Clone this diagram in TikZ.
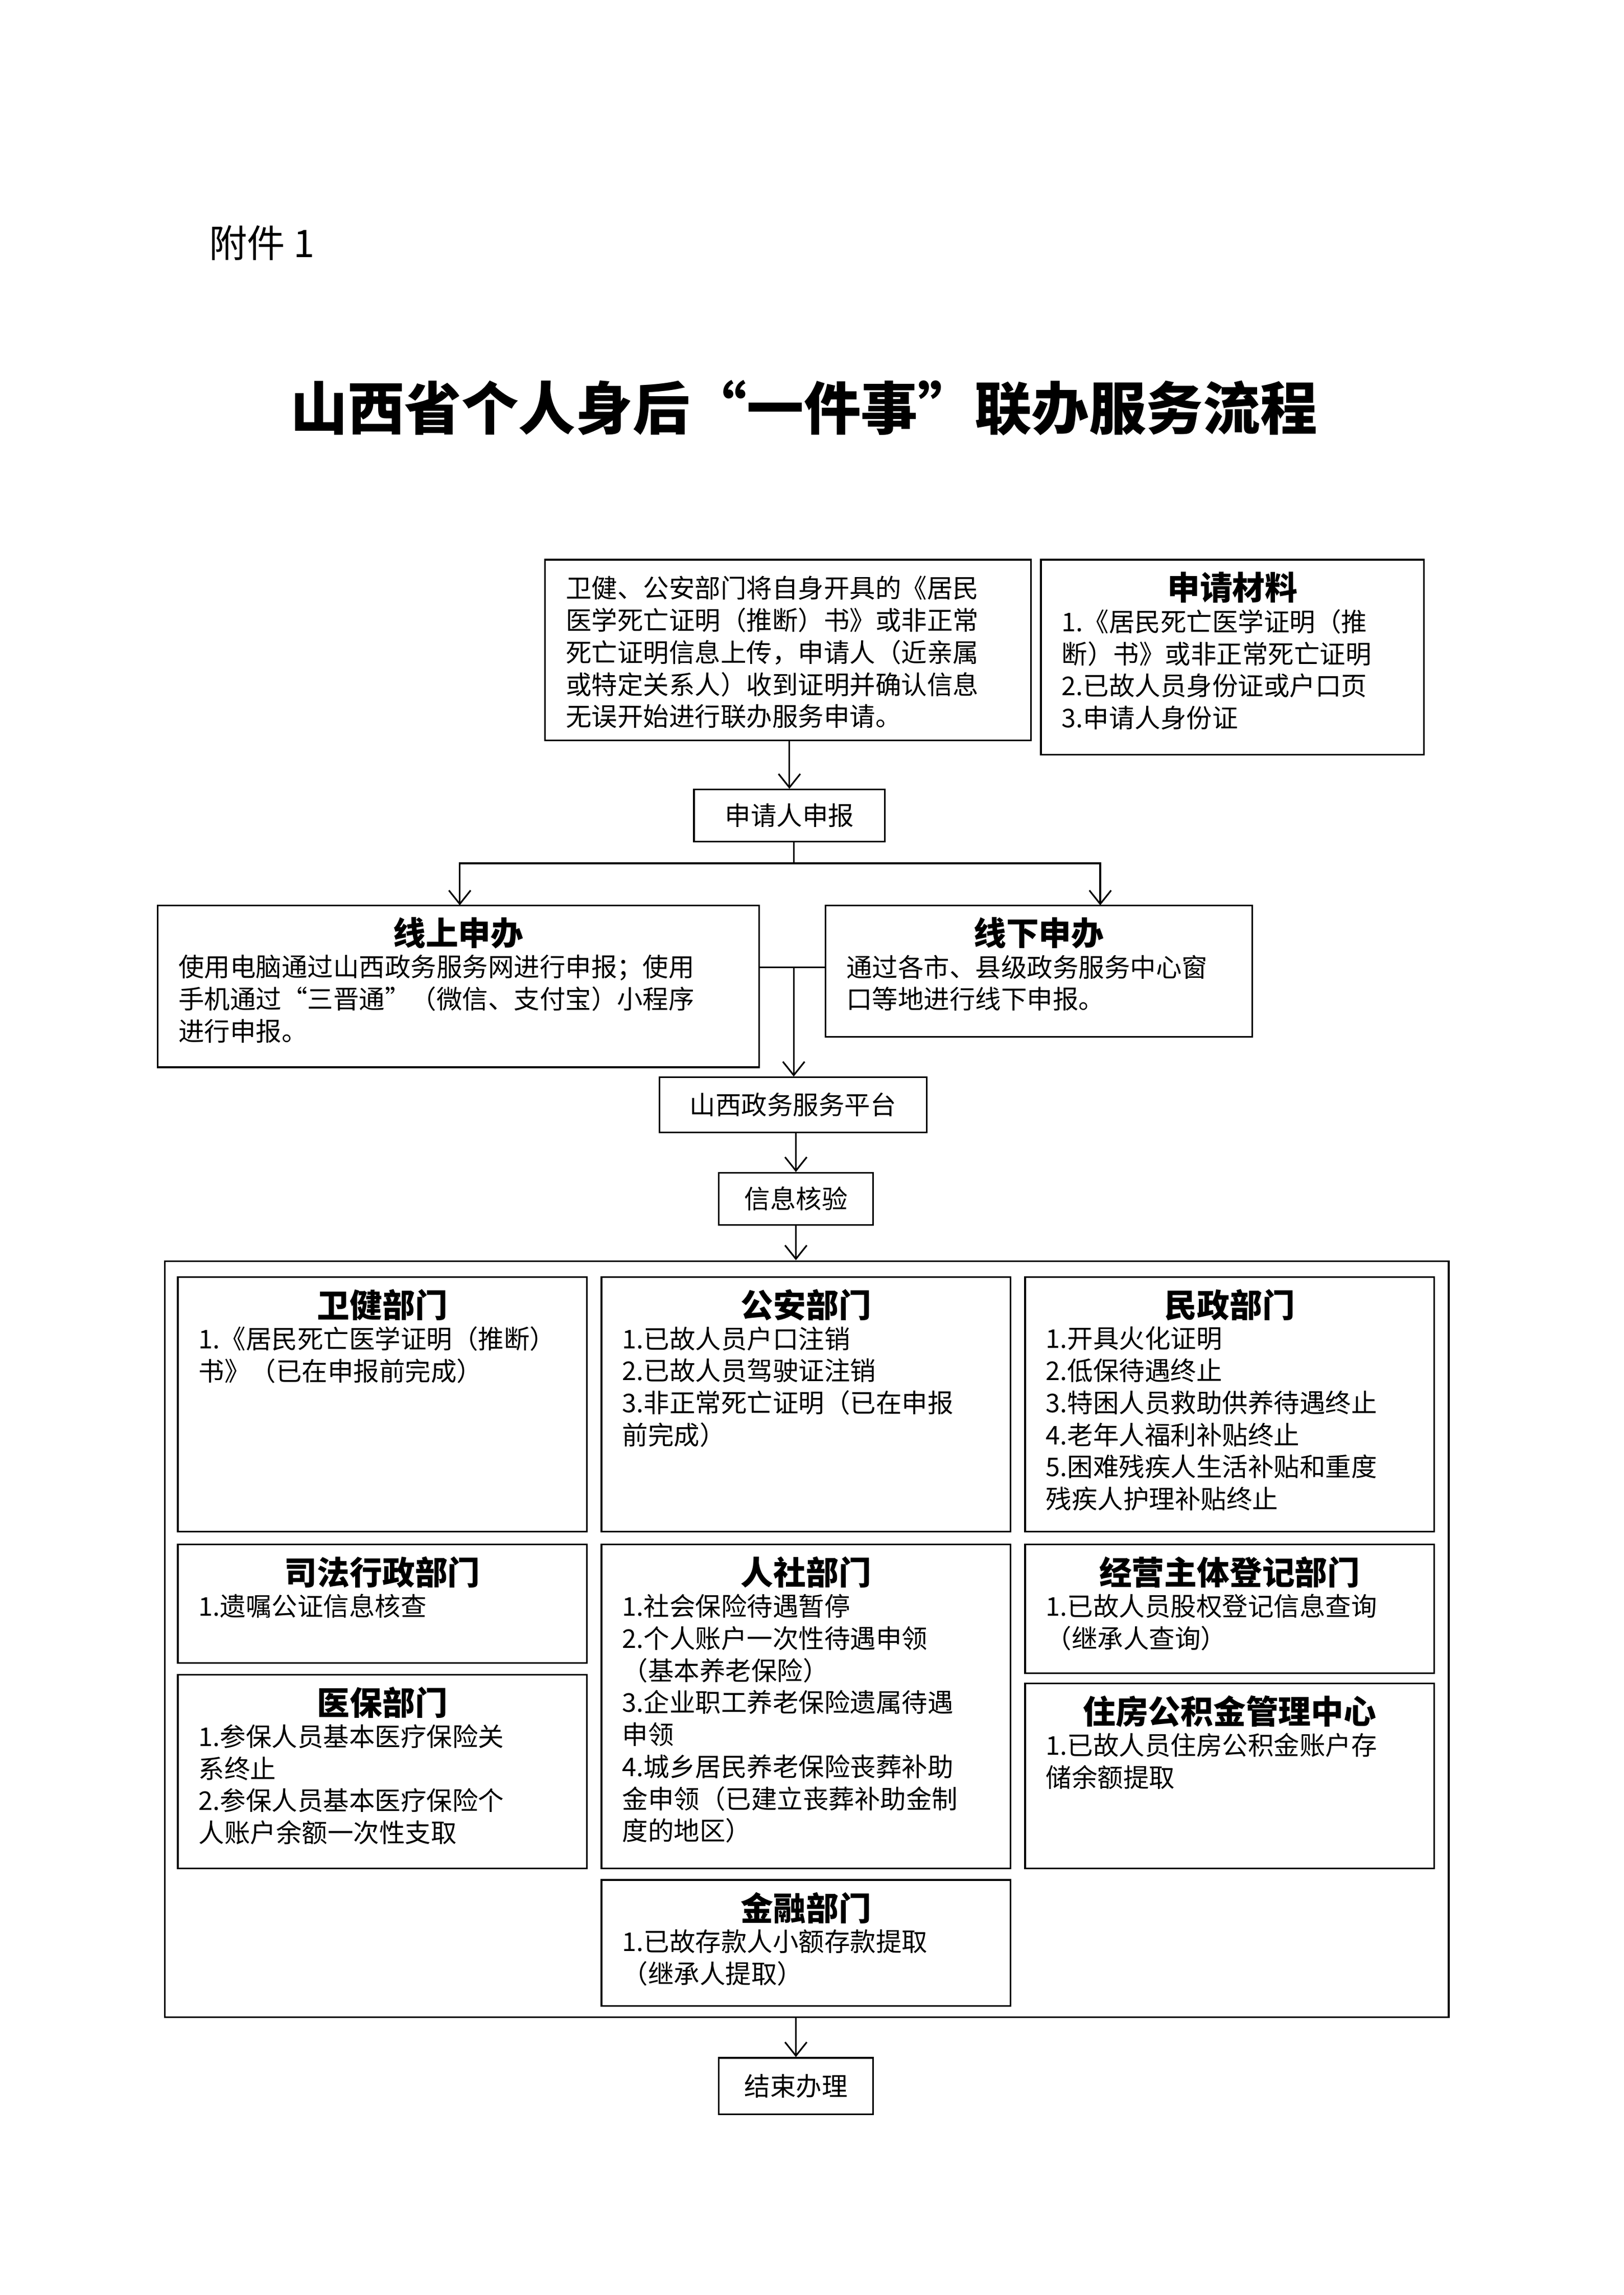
\documentclass[tikz,border=0pt]{standalone}
\usepackage{fontspec}
\setmainfont{Noto Sans CJK SC}
\usetikzlibrary{arrows.meta}
\tikzset{
  frame/.style={draw=black, line width=0.6pt, inner sep=0pt},
  body/.style={align=left, inner sep=0pt, font=\fontsize{9.5}{11.8}\selectfont},
  head/.style={inner sep=0pt, font=\fontsize{12}{14}\selectfont\bfseries},
  flow/.style={-{Straight Barb[length=5pt,width=8pt]}, line width=0.6pt},
}
% box from (x1,y1) to (x2,y2) in page pixels
\newcommand{\boxat}[5]{%
  \node[frame, minimum width={(#4-#2)*0.0187cm}, minimum height={(#5-#3)*0.0187cm}]
    (#1) at ({(#2+#4)/2},{(#3+#5)/2}) {};}
\newcommand{\dept}[7]{%
  \boxat{#1}{#2}{#3}{#4}{#5}
  \node[head, anchor=north] (#1_head) at ({(#2+#4)/2},{#3+8}) {#6};
  \node[body, anchor=north west] (#1_body) at ({#2+14},{#3+34}) {#7};}
\begin{document}
\begin{tikzpicture}[x=0.0187cm, y=-0.0187cm]
  \useasboundingbox (0,0) rectangle (1123,1587);
  \node[anchor=west, font=\fontsize{14}{16}\selectfont] (annex) at (138,168) {附件 1};
  \node[font=\fontsize{21}{24}\selectfont\bfseries] (title) at (556,282)
    {山西省个人身后“一件事”联办服务流程};

  \boxat{notice}{377}{387}{713}{512}
  \node[body, anchor=north west] (notice_body) at (391,398)
    {卫健、公安部门将自身开具的《居民\\医学死亡证明（推断）书》或非正常\\死亡证明信息上传，申请人（近亲属\\或特定关系人）收到证明并确认信息\\无误开始进行联办服务申请。};
  \dept{materials}{720}{387}{985}{522}{申请材料}
    {1.《居民死亡医学证明（推\\断）书》或非正常死亡证明\\2.已故人员身份证或户口页\\3.申请人身份证}

  \boxat{apply}{480}{546}{612}{582}
  \node[body] at (apply) {申请人申报};

  \dept{online}{109}{626}{525}{738}{线上申办}
    {使用电脑通过山西政务服务网进行申报；使用\\手机通过“三晋通”（微信、支付宝）小程序\\进行申报。}
  \dept{offline}{571}{626}{866}{717}{线下申办}
    {通过各市、县级政务服务中心窗\\口等地进行线下申报。}

  \boxat{platform}{456}{745}{641}{783}
  \node[body] at (platform) {山西政务服务平台};
  \boxat{verify}{497}{811}{604}{847}
  \node[body] at (verify) {信息核验};
  \boxat{depts}{114}{872}{1002}{1395}
  \boxat{finish}{497}{1423}{604}{1462}
  \node[body] at (finish) {结束办理};

  \dept{health}{123}{883}{406}{1059}{卫健部门}
    {1.《居民死亡医学证明（推断）\\书》（已在申报前完成）}
  \dept{police}{416}{883}{699}{1059}{公安部门}
    {1.已故人员户口注销\\2.已故人员驾驶证注销\\3.非正常死亡证明（已在申报\\前完成）}
  \dept{civil}{709}{883}{992}{1059}{民政部门}
    {1.开具火化证明\\2.低保待遇终止\\3.特困人员救助供养待遇终止\\4.老年人福利补贴终止\\5.困难残疾人生活补贴和重度\\残疾人护理补贴终止}
  \dept{justice}{123}{1068}{406}{1150}{司法行政部门}
    {1.遗嘱公证信息核查}
  \dept{social}{416}{1068}{699}{1292}{人社部门}
    {1.社会保险待遇暂停\\2.个人账户一次性待遇申领\\（基本养老保险）\\3.企业职工养老保险遗属待遇\\申领\\4.城乡居民养老保险丧葬补助\\金申领（已建立丧葬补助金制\\度的地区）}
  \dept{market}{709}{1068}{992}{1157}{经营主体登记部门}
    {1.已故人员股权登记信息查询\\（继承人查询）}
  \dept{medical}{123}{1158}{406}{1292}{医保部门}
    {1.参保人员基本医疗保险关\\系终止\\2.参保人员基本医疗保险个\\人账户余额一次性支取}
  \dept{housing}{709}{1164}{992}{1292}{住房公积金管理中心}
    {1.已故人员住房公积金账户存\\储余额提取}
  \dept{finance}{416}{1300}{699}{1387}{金融部门}
    {1.已故存款人小额存款提取\\（继承人提取）}

  % connectors
  \coordinate (split) at (549,597);
  \coordinate (merge) at (549,669);
  \coordinate (online_in) at (318,626);
  \coordinate (offline_in) at (761,626);
  \draw[flow] (notice.south -| apply.north) -- (apply.north);
  \draw[line width=0.6pt] (apply.south -| split) -- (split);
  \draw[flow] (split) -| (online_in);
  \draw[flow] (split) -| (offline_in);
  \draw[line width=0.6pt] (online.east |- merge) -- (offline.west |- merge);
  \draw[flow] (merge) -- (merge |- platform.north);
  \draw[flow] (platform.south -| verify.north) -- (verify.north);
  \draw[flow] (verify.south) -- (verify.south |- depts.north);
  \draw[flow] (depts.south -| finish.north) -- (finish.north);
\end{tikzpicture}
\end{document}
